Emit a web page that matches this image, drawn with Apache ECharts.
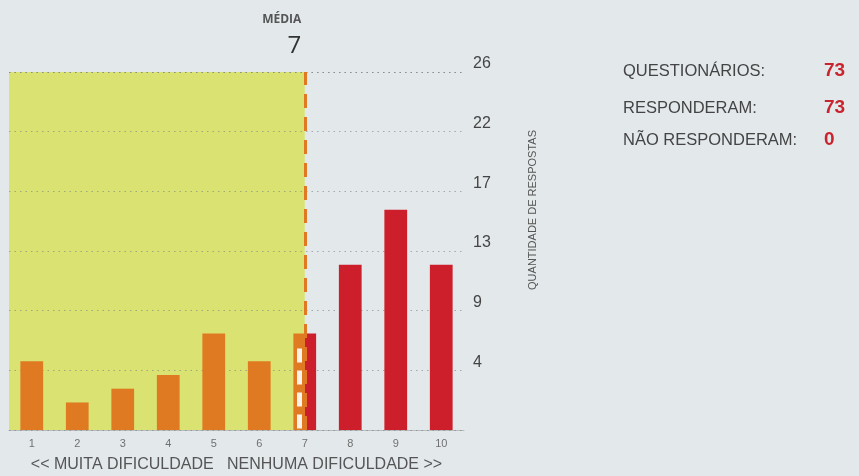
<!DOCTYPE html>
<html>
<head>
<meta charset="utf-8">
<script src="https://cdn.jsdelivr.net/npm/echarts@6/dist/echarts.min.js"></script>
<style>
html,body{margin:0;padding:0;background:#e3e8eb;}
#chart{width:859px;height:476px;}
</style>
</head>
<body>
<div id="chart"></div>
<script>
// ---- data ----
var categories = ['1','2','3','4','5','6','7','8','9','10'];
var responses  = [5, 2, 3, 4, 7, 5, 7, 12, 16, 12];
var yTickLabels = [4, 9, 13, 17, 22, 26];
var meanValue = 7;
var meanLabel = 'MÉDIA';
var xAxisTitle = '<< MUITA DIFICULDADE   NENHUMA DIFICULDADE >>';
var yAxisTitle = 'QUANTIDADE DE RESPOSTAS';
var panelLabels = ['QUESTIONÁRIOS:', 'RESPONDERAM:', 'NÃO RESPONDERAM:'];
var panelValues = [73, 73, 0];

// ---- styles ----
var ORANGE = '#df7a22', RED = '#cd1f2b', YELLOW = 'rgba(216,226,100,0.9)';
var yMax = 26;

var chart = echarts.init(document.getElementById('chart'));

var barData = responses.map(function (v, i) {
  var c;
  var cat = Number(categories[i]);
  if (cat < meanValue) c = ORANGE;
  else if (cat > meanValue) c = RED;
  else c = new echarts.graphic.LinearGradient(0, 0, 1, 0, [
    {offset: 0, color: ORANGE}, {offset: 0.5, color: ORANGE},
    {offset: 0.5, color: RED}, {offset: 1, color: RED}]);
  return {value: v, itemStyle: {color: c}};
});

var meanIdx = categories.indexOf(String(meanValue));
var panelTops = [63, 100, 132];

var option = {
  backgroundColor: '#e3e8eb',
  animation: false,
  grid: {left: 9, right: 395, top: 72, bottom: 46, outerBoundsMode: 'none', containLabel: false},
  xAxis: [{
    type: 'category', data: categories,
    axisLine: {lineStyle: {color: '#b8bcbf', width: 1}},
    axisTick: {show: false},
    axisLabel: {color: '#707070', fontSize: 11, margin: 8, fontFamily: 'Liberation Sans'},
    name: xAxisTitle, nameLocation: 'middle', nameGap: 27,
    nameTextStyle: {color: '#555', fontSize: 16, fontFamily: 'Liberation Sans'}
  }, {
    type: 'value', min: 0.5, max: 10.5, show: false
  }],
  yAxis: {
    type: 'value', position: 'right', min: 0, max: yMax, interval: yMax / 6, z: 2,
    axisLine: {show: false}, axisTick: {show: false},
    axisLabel: {
      color: '#444', fontSize: 16, margin: 9, verticalAlign: 'bottom',
      fontFamily: 'Liberation Sans',
      formatter: function (v) { var r = Math.round(v); return yTickLabels.indexOf(r) >= 0 ? String(r) : ''; }
    },
    splitLine: {lineStyle: {color: 'rgba(120,126,132,0.6)', type: [1.5, 4], width: 1.2}}
  },
  series: [{
    type: 'bar', xAxisIndex: 0, data: barData, barWidth: '50%', z: 3
  }, {
    type: 'line', xAxisIndex: 1, data: [], z: 1,
    markArea: {
      silent: true,
      itemStyle: {color: YELLOW},
      data: [[{xAxis: 0.5, yAxis: 0}, {xAxis: meanValue, yAxis: yMax}]]
    }
  }, {
    type: 'line', xAxisIndex: 1, data: [], z: 5,
    markLine: {
      silent: true, symbol: 'none',
      lineStyle: {color: ORANGE, type: [14, 9], width: 3},
      label: {
        show: true, position: 'end', distance: 13, offset: [-23, 0],
        formatter: '{a|' + meanLabel + '}\n{b|' + meanValue + '}',
        rich: {
          a: {fontSize: 12, color: '#555', fontWeight: 'bold', fontFamily: 'Open Sans', align: 'right', lineHeight: 26},
          b: {fontSize: 24, color: '#333', fontFamily: 'Open Sans', align: 'right', lineHeight: 26}
        }
      },
      data: [[{coord: [meanValue, 0]}, {coord: [meanValue, yMax]}]]
    }
  }, {
    type: 'line', xAxisIndex: 1, data: [], z: 6,
    markLine: {
      silent: true, symbol: 'none',
      lineStyle: {color: '#ffffff', type: [14, 8], width: 5, opacity: 0.9},
      label: {show: false},
      data: [[{coord: [meanValue - 0.11, 0.1]}, {coord: [meanValue - 0.11, responses[meanIdx] - 0.7]}]]
    }
  }],
  graphic: [{
    type: 'text', left: 527, top: 130, rotation: Math.PI / 2,
    style: {text: yAxisTitle, fill: '#555', fontSize: 11, fontFamily: 'Liberation Sans'}
  }].concat(panelLabels.map(function (t, i) {
    return {type: 'text', left: 623, top: panelTops[i],
      style: {text: t, fill: '#444', fontSize: 16.5, fontFamily: 'Liberation Sans'}};
  })).concat(panelValues.map(function (v, i) {
    return {type: 'text', left: 824, top: panelTops[i] - 2,
      style: {text: String(v), fill: '#c9242e', fontSize: 19, fontWeight: 'bold', fontFamily: 'Liberation Sans'}};
  }))
};
chart.setOption(option);
</script>
</body>
</html>
